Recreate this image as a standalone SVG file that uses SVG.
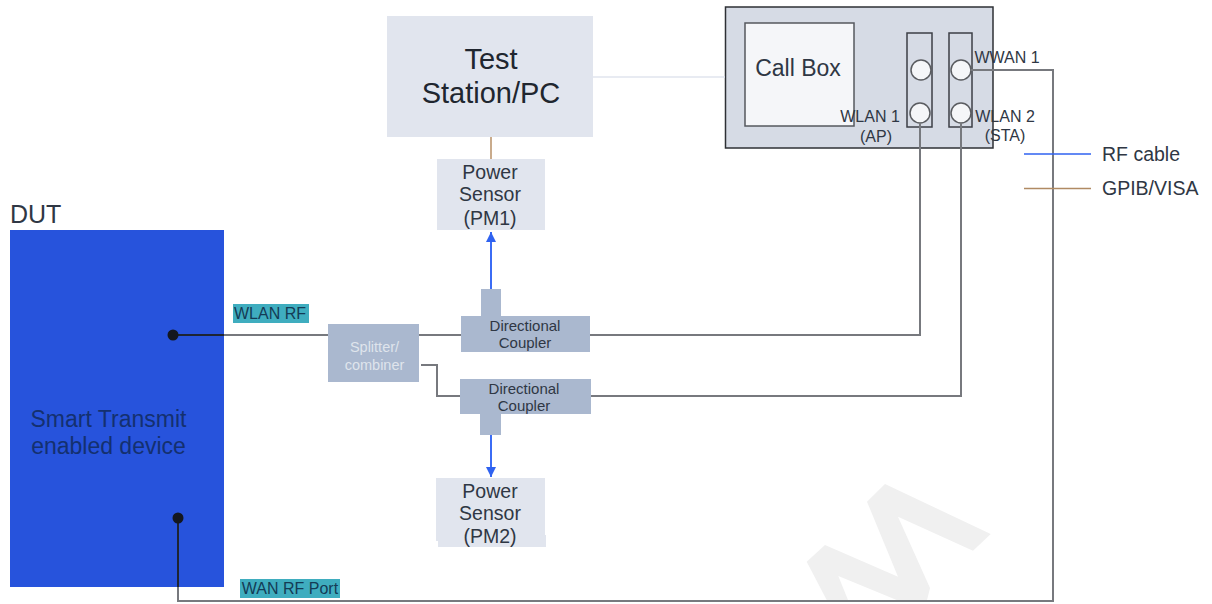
<svg xmlns="http://www.w3.org/2000/svg" width="1212" height="604" viewBox="0 0 1212 604">
<style>
text{font-family:"Liberation Sans",Arial,sans-serif;fill:#2f3744;text-anchor:middle}
.light{fill:#e1e5ee}.coupler{fill:#aab8cf}.cable{fill:none;stroke:#77797e;stroke-width:2}
.dark{fill:none;stroke:#3c3f46;stroke-width:1.5}.port{fill:#f5f6f8;stroke:#5a5c60;stroke-width:1.5}
.tag{fill:#3fadbf}.dot{fill:#14171f}
.t16{font-size:16px}.t15{font-size:15px}.t18{font-size:19.500px}.start{text-anchor:start}
</style>
<defs>
<marker id="a" markerWidth="12" markerHeight="10" refX="10" refY="5" orient="auto" markerUnits="userSpaceOnUse"><path d="M0 0L10 5L0 10Z" fill="#2f62f0"/></marker>
</defs>
<polygon id="watermark" points="806.7,561.7 825,545 898,576.700 867,501.700 885,484 990.700,534 973,550.700 898,516.700 930,588 927,600 896.700,600 838.300,576 848,600 826.700,600" fill="#f0f0f0"/>
<g id="dut"><rect x="10" y="230" width="214" height="357" fill="#2753dc"/>
<text x="10" y="223" class="start" style="font-size:25px">DUT</text>
<text x="108.500" y="427" font-size="23" style="fill:#14306f">Smart Transmit</text><text x="108.500" y="454" font-size="23" style="fill:#14306f">enabled device</text></g>
<g id="test-station"><rect x="387" y="16" width="206" height="121" class="light"/>
<text x="491" y="69" font-size="29" style="fill:#20262f">Test</text><text x="491" y="103" font-size="29" style="fill:#20262f">Station/PC</text></g>
<g id="call-box"><rect x="725.500" y="7" width="267.500" height="141" fill="#d6dbe5" stroke="#2e3035" stroke-width="1.500"/>
<rect x="745" y="23" width="109" height="103" fill="#f5f6f9" stroke="#55585e" stroke-width="1.500"/>
<text x="798" y="76" font-size="23">Call Box</text>
<rect x="907" y="33" width="25" height="94" class="dark"/><rect x="949" y="33" width="23" height="94" class="dark"/>
<circle cx="921" cy="70" r="10" class="port"/><circle cx="961" cy="70" r="10" class="port"/>
<circle cx="920" cy="113" r="10" class="port"/><circle cx="961" cy="113" r="10" class="port"/></g>
<g id="connectors">
<path class="cable" d="M173 335H328M419 335H461M590 335H920V123"/>
<path class="cable" d="M421 365H437V396H460M590 396H961V123"/>
<path class="cable" d="M178 518V601H1053V70H971"/>
<path d="M173 335H224M178 518V587" fill="none" stroke="#1d2433" stroke-width="2"/>
<path d="M491 290V232" fill="none" stroke="#3b6cf5" stroke-width="2" marker-end="url(#a)"/>
<path d="M491 435V477" fill="none" stroke="#3b6cf5" stroke-width="2" marker-end="url(#a)"/>
<path d="M491 137V159" fill="none" stroke="#c9ab8c" stroke-width="2"/>
<path d="M593 77H725" fill="none" stroke="#e1e5ee" stroke-width="1.500"/>
<path d="M1024 154H1091" fill="none" stroke="#2f62f0" stroke-width="1.500"/>
<path d="M1024 188.500H1091" fill="none" stroke="#b08a63" stroke-width="1.500"/>
</g>
<g id="pm1"><rect x="437" y="159" width="108" height="71" class="light"/>
<text x="490" y="179" class="t18">Power</text><text x="490" y="201" class="t18">Sensor</text><text x="490" y="225" class="t18">(PM1)</text></g>
<g id="pm2"><rect x="436" y="478" width="109" height="63" class="light"/><rect x="438" y="535" width="108" height="12" class="light"/>
<text x="490" y="498" class="t18">Power</text><text x="490" y="520" class="t18">Sensor</text><text x="490" y="543" class="t18">(PM2)</text></g>
<g id="splitter"><rect x="328" y="324" width="91" height="58" class="coupler"/>
<text x="374.500" y="352" font-size="14.500" style="fill:#dfe4ec">Splitter/</text><text x="374.500" y="370" font-size="14.500" style="fill:#dfe4ec">combiner</text></g>
<g id="coupler1"><rect x="461" y="316" width="129" height="36" class="coupler"/><rect x="481" y="289" width="20" height="28" class="coupler"/>
<text x="525" y="331" class="t15">Directional</text><text x="525" y="348" class="t15">Coupler</text></g>
<g id="coupler2"><rect x="460" y="379" width="131" height="35" class="coupler"/><rect x="480" y="413" width="21" height="22" class="coupler"/>
<text x="524" y="394" class="t15">Directional</text><text x="524" y="411" class="t15">Coupler</text></g>
<g id="ports-labels">
<text x="870" y="122" class="t16">WLAN 1</text><text x="876" y="142" class="t16">(AP)</text>
<text x="1007" y="63" class="t16">WWAN 1</text>
<text x="1005" y="122" class="t16">WLAN 2</text><text x="1005" y="141" class="t16">(STA)</text>
</g>
<g id="legend"><text x="1102" y="161" class="start" style="font-size:19.500px">RF cable</text><text x="1102" y="195" class="start" style="font-size:19.500px">GPIB/VISA</text></g>
<g id="wlan-rf"><rect x="233" y="304" width="76" height="19" class="tag"/><text x="270" y="319" class="t16" style="fill:#143b55">WLAN RF</text></g>
<g id="wan-rf"><rect x="240" y="579" width="100" height="19" class="tag"/><text x="290" y="594" class="t16" style="fill:#143b55">WAN RF Port</text></g>
<circle id="dot1" cx="173" cy="335" r="5.500" class="dot"/>
<circle id="dot2" cx="178" cy="518" r="5.500" class="dot"/>
</svg>
